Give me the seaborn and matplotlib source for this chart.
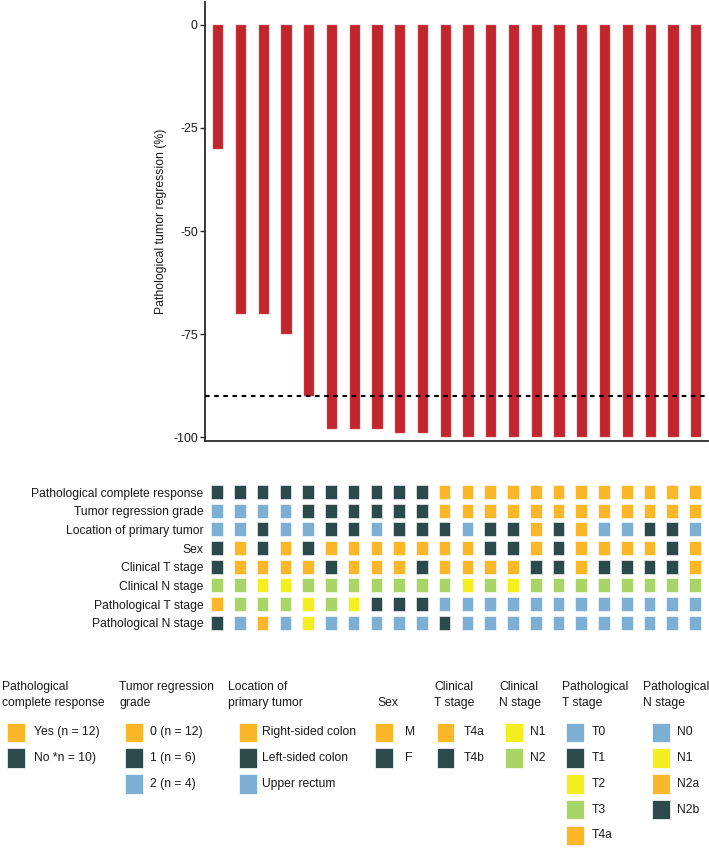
import matplotlib
matplotlib.use("Agg")
import matplotlib.pyplot as plt
import seaborn as sns
import pandas as pd
from matplotlib.patches import Rectangle

# ---------------- data ----------------
patients = list(range(1, 23))
regression = [-30, -70, -70, -75, -90, -98, -98, -98, -99, -99,
              -100, -100, -100, -100, -100, -100, -100, -100, -100, -100, -100, -100]
threshold = -90

row_labels = ["Pathological complete response", "Tumor regression grade",
              "Location of primary tumor", "Sex", "Clinical T stage",
              "Clinical N stage", "Pathological T stage", "Pathological N stage"]

pcr = ["No", "No", "No", "No", "No", "No", "No", "No", "No", "No",
       "Yes", "Yes", "Yes", "Yes", "Yes", "Yes", "Yes", "Yes", "Yes", "Yes", "Yes", "Yes"]
trg = ["2", "2", "2", "2", "1", "1", "1", "1", "1", "1",
       "0", "0", "0", "0", "0", "0", "0", "0", "0", "0", "0", "0"]
location = ["U", "U", "L", "U", "U", "L", "L", "U", "L", "L", "L",
            "U", "L", "L", "R", "L", "R", "U", "U", "L", "L", "U"]
sex = ["F", "M", "F", "M", "F", "M", "M", "M", "M", "M", "M",
       "M", "F", "F", "M", "F", "M", "M", "M", "M", "F", "M"]
clin_t = ["T4b", "T4a", "T4a", "T4a", "T4a", "T4b", "T4a", "T4a", "T4a", "T4b", "T4a",
          "T4a", "T4a", "T4a", "T4b", "T4b", "T4a", "T4b", "T4b", "T4b", "T4b", "T4a"]
clin_n = ["N2", "N2", "N1", "N1", "N2", "N2", "N2", "N2", "N2", "N2", "N2",
          "N1", "N2", "N1", "N2", "N2", "N2", "N2", "N2", "N2", "N2", "N2"]
path_t = ["T4a", "T3", "T3", "T3", "T2", "T3", "T2", "T1", "T1", "T1", "T0",
          "T0", "T0", "T0", "T0", "T0", "T0", "T0", "T0", "T0", "T0", "T0"]
path_n = ["N2b", "N0", "N2a", "N0", "N1", "N0", "N0", "N0", "N0", "N0", "N2b",
          "N0", "N0", "N0", "N0", "N0", "N0", "N0", "N0", "N0", "N0", "N0"]

# ---------------- colours ----------------
ORANGE = "#FBB728"
DARK = "#2C4A49"
BLUE = "#7DAED3"
YELLOW = "#F4EE1E"
GREEN = "#A9D466"
RED = "#C1262E"

pcr_colors = {"Yes": ORANGE, "No": DARK}
trg_colors = {"0": ORANGE, "1": DARK, "2": BLUE}
loc_colors = {"R": ORANGE, "L": DARK, "U": BLUE}
sex_colors = {"M": ORANGE, "F": DARK}
ct_colors = {"T4a": ORANGE, "T4b": DARK}
cn_colors = {"N1": YELLOW, "N2": GREEN}
pt_colors = {"T0": BLUE, "T1": DARK, "T2": YELLOW, "T3": GREEN, "T4a": ORANGE}
pn_colors = {"N0": BLUE, "N1": YELLOW, "N2a": ORANGE, "N2b": DARK}

grid_rows = [(pcr, pcr_colors), (trg, trg_colors), (location, loc_colors),
             (sex, sex_colors), (clin_t, ct_colors), (clin_n, cn_colors),
             (path_t, pt_colors), (path_n, pn_colors)]

# legend content
legend_titles = [("Pathological", "complete response"), ("Tumor regression", "grade"),
                 ("Location of", "primary tumor"), ("", "Sex"), ("Clinical", "T stage"),
                 ("Clinical", "N stage"), ("Pathological", "T stage"), ("Pathological", "N stage")]
legend_labels = [["Yes (n = 12)", "No *n = 10)"],
                 ["0 (n = 12)", "1 (n = 6)", "2 (n = 4)"],
                 ["Right-sided colon", "Left-sided colon", "Upper rectum"],
                 ["M", "F"], ["T4a", "T4b"], ["N1", "N2"],
                 ["T0", "T1", "T2", "T3", "T4a"],
                 ["N0", "N1", "N2a", "N2b"]]
legend_colors = [[ORANGE, DARK], [ORANGE, DARK, BLUE], [ORANGE, DARK, BLUE],
                 [ORANGE, DARK], [ORANGE, DARK], [YELLOW, GREEN],
                 [BLUE, DARK, YELLOW, GREEN, ORANGE], [BLUE, YELLOW, ORANGE, DARK]]

# ---------------- style ----------------
sns.set_theme(style="white")
plt.rcParams["font.family"] = ["Liberation Sans", "DejaVu Sans"]
plt.rcParams["font.size"] = 8.7
TXT = "#1a1a1a"

W, H = 709, 849
fig = plt.figure(figsize=(W / 100, H / 100), dpi=100)

left_px, right_px = 205, 708
xlim = (-0.58, 21.52)

# ---------------- waterfall ----------------
top_px, bot_px = 2, 440.7
ax = fig.add_axes([left_px / W, 1 - bot_px / H, (right_px - left_px) / W, (bot_px - top_px) / H])
df = pd.DataFrame({"patient": patients, "regression": regression})
sns.barplot(data=df, x="patient", y="regression", order=patients, color=RED,
            saturation=1, width=0.45, ax=ax, edgecolor="#e06060", linewidth=0.3)
ax.axhline(threshold, color="black", lw=1.5, ls=(0, (2.2, 2.2)), zorder=3)
ax.set_xlim(*xlim)
ax.set_ylim(-100.8, 5.5)
ax.set_yticks([0, -25, -50, -75, -100])
ax.set_yticklabels(["0", "-25", "-50", "-75", "-100"], fontsize=8.9, color=TXT)
ax.set_xticks([])
ax.set_xlabel("")
ax.set_ylabel("Pathological tumor regression (%)", fontsize=8.8, color=TXT, labelpad=4.5)
sns.despine(ax=ax)
for s in ("left", "bottom"):
    ax.spines[s].set_linewidth(1.3)
    ax.spines[s].set_color("#2a2a2a")
ax.tick_params(axis="y", left=True, length=3.4, width=1.0, color="#2a2a2a", pad=1.8)

# ---------------- annotation grid ----------------
g_top, g_bot = 482.7, 632.0
gax = fig.add_axes([left_px / W, 1 - g_bot / H, (right_px - left_px) / W, (g_bot - g_top) / H])
cols = list(range(len(patients)))
for r, (vals, cmap) in enumerate(grid_rows):
    gax.bar(cols, height=0.75, bottom=r - 0.375, width=0.51,
            color=[cmap[v] for v in vals], edgecolor="white", linewidth=0.4)
gax.set_xlim(-0.53, 21.57)
gax.set_ylim(7.5, -0.5)
gax.set_yticks(range(len(row_labels)))
gax.set_yticklabels(row_labels, fontsize=8.7, color=TXT)
gax.set_xticks([])
gax.tick_params(axis="y", length=0, pad=1.2)
for s in gax.spines.values():
    s.set_visible(False)

# ---------------- legend ----------------
l_top = 640
lax = fig.add_axes([0, 0, 1, (H - l_top) / H])
lax.set_xlim(0, W)
lax.set_ylim(H, l_top)
lax.axis("off")

hdr_x = [2, 119, 228.3, 377.3, 434.3, 499, 561.7, 642.7]
sq_x = [7.3, 125.3, 239.3, 375, 436.7, 505, 566, 652.3]
lab_x = [34.3, 150, 262.3, 405, 463.3, 530, 591.7, 677.3]
hdr_y1, hdr_y2 = 687, 703
sq_top0, sq_pitch, sq_w, sq_h = 722.5, 25.8, 17.5, 19.5

for i in range(len(legend_titles)):
    t1, t2 = legend_titles[i]
    if t1:
        lax.text(hdr_x[i], hdr_y1, t1, ha="left", va="center", fontsize=8.7, color=TXT)
    lax.text(hdr_x[i], hdr_y2, t2, ha="left", va="center", fontsize=8.7, color=TXT)
    for j, (lab, col) in enumerate(zip(legend_labels[i], legend_colors[i])):
        y0 = sq_top0 + j * sq_pitch
        lax.add_patch(Rectangle((sq_x[i], y0), sq_w, sq_h, facecolor=col,
                                edgecolor="white", linewidth=0.5))
        lax.text(lab_x[i], y0 + sq_h / 2, lab, ha="left", va="center",
                 fontsize=8.7, color=TXT)

fig.savefig("out.png", dpi=100)
